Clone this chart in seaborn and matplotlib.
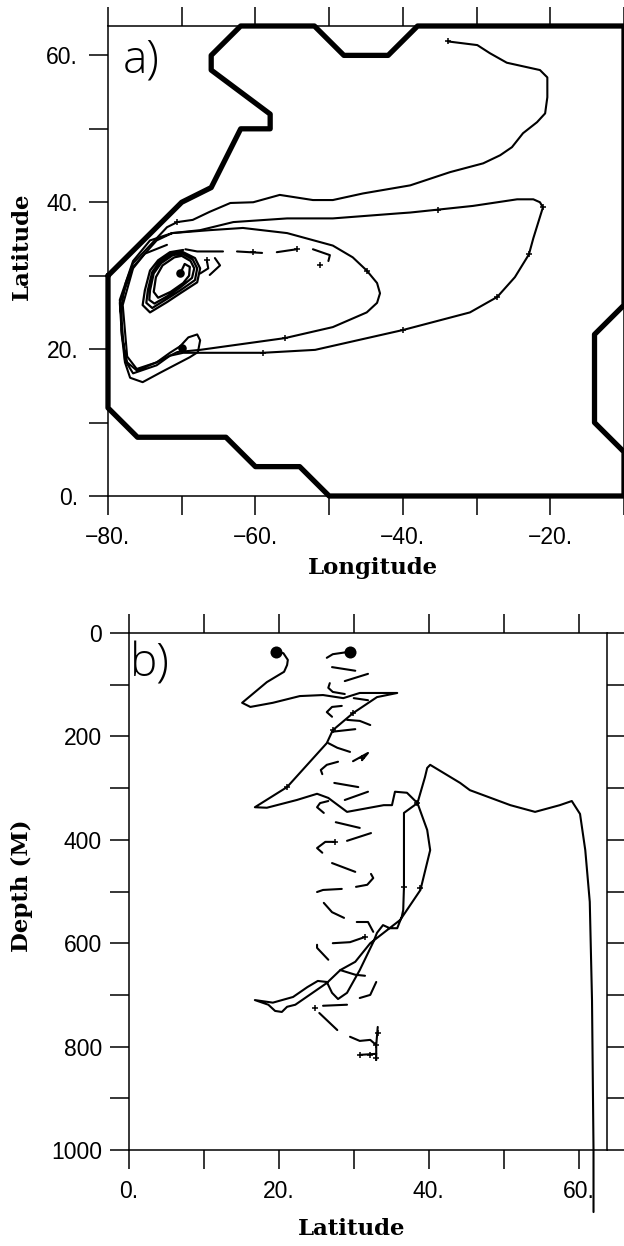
import matplotlib
matplotlib.use("Agg")
import matplotlib.pyplot as plt
import seaborn as sns

sns.set_style("ticks")
plt.rcParams['font.family'] = ['Liberation Sans', 'DejaVu Sans']

W, H = 624, 1246

# panel a, coast of the model basin
coast_lon = [-80, -70, -66, -62, -58, -58, -66, -66, -62, -52, -48, -42, -38, -10, -10, -14, -14, -10, -10, -50, -54, -60, -64, -76, -80, -80]
coast_lat = [30, 40, 42, 50, 50, 52, 58, 60, 64, 64, 60, 60, 64, 64, 26, 22, 10, 6, 0, 0, 4, 4, 8, 8, 12, 30]

# panel a, trajectories
north_lon = [-33.9, -29.9, -28.2, -25.9, -22.3, -21.4, -20.4, -20.4, -20.4, -20.7, -21.8, -23.7, -25.2, -26.8, -29.1, -33.6, -39, -45.4, -49.5, -51.2, -52.2, -56.7, -60.3, -63.4, -66.2, -68.5, -70.6, -72, -74.7, -76.6, -77.6, -78.1, -78.2, -77.7, -77, -75.3, -72.9, -68.9, -67.8, -67.5, -67.9, -69.1, -70.2]
north_lat = [61.9, 61.4, 60.3, 59, 58.2, 58, 57, 55.9, 54.3, 52.1, 50.9, 49.4, 47.5, 46.4, 45.3, 44.1, 42.3, 41.2, 40.3, 40.3, 40.3, 41, 40, 39.9, 38.7, 37.6, 37.3, 36.6, 33.7, 31.7, 29, 26.3, 22.6, 18.2, 16.1, 15.5, 16.8, 18.9, 19.6, 21.2, 22, 21.6, 20.4]
east_lon = [-70.2, -71.6, -73.4, -76.1, -77.4, -78.1, -78.4, -76.6, -73.4, -71.3, -67.5, -63, -55.7, -49.5, -40.4, -39, -35.2, -30.5, -24.5, -22.3, -21.4, -21, -22.3, -22.9, -24.8, -27.2, -30.9, -40, -51.9, -59, -67.5, -69.8, -71.6, -73.4, -76.6, -77.7, -78.4, -76.6, -74.3, -71.3]
east_lat = [20.4, 19.5, 18.2, 17.1, 18.2, 21.6, 26.3, 31.2, 34.8, 35.8, 36.2, 37.3, 37.8, 37.8, 38.5, 38.6, 39, 39.5, 40.4, 40.4, 40, 39.3, 35.1, 32.9, 29.8, 27.1, 25, 22.6, 19.9, 19.5, 19.5, 19.5, 19.1, 17.8, 16.7, 18.5, 26.7, 32, 34.8, 35.8]
loop_lon = [-71.3, -66.2, -61.7, -55.7, -49.5, -46.8, -44.9, -43.5, -43.1, -43.5, -44.9, -49.5, -56, -67.5, -70.6, -73.4, -76.1, -77.4, -78, -76.6, -75, -72]
loop_lat = [35.8, 36.2, 36.5, 35.8, 34.1, 32.5, 30.7, 29, 27.6, 26.3, 25, 23, 21.5, 19.9, 19.6, 18.2, 17.3, 19, 26, 31, 33, 34.2]
gyre_lon = [-69.8, -71.6, -73.2, -74.3, -75, -75.3, -74.3, -72, -70.2, -67.9, -67.5, -68.2,
            -69.8, -71.4, -73, -74, -74.6, -74.8, -74, -71.9, -70.2, -68.2, -67.9, -68.5,
            -69.9, -71.2, -72.8, -73.8, -74.3, -74.4, -73.7, -71.8, -70.2, -68.6, -68.3, -68.8,
            -70, -71, -72.6, -73.5, -73.8, -73.2, -71.5, -69.8, -69, -68.9, -69.6, -70.2]
gyre_lat = [33.5, 33.2, 32.1, 30.7, 28, 26, 25, 26.4, 27.6, 29.1, 31, 32.4,
            33.2, 33, 31.9, 30.5, 28, 26.3, 25.6, 26.9, 28, 29.4, 31, 32.2,
            33, 32.8, 31.7, 30.3, 28, 26.7, 26.2, 27.3, 28.4, 29.7, 31, 32,
            32.7, 32.5, 31.4, 29.8, 27.8, 27, 27.8, 29, 30, 31.2, 31.6, 30.3]
a_solid_lon = [north_lon, east_lon, loop_lon]
a_solid_lat = [north_lat, east_lat, loop_lat]

# panel a, end of the float as dashes
a_dash_lon = [[-69.5, -67.9, -64.4], [-62.5, -59.1], [-57.1, -54.4], [-52.2, -49.9, -50.1], [-66.6, -66.4, -67.5], [-65.5, -64.8, -66.2]]
a_dash_lat = [[33.6, 33.3, 33.3], [33.3, 33.1], [33.2, 33.6], [33.6, 32.8, 32], [32.1, 31, 30.3], [32.4, 31.4, 30.1]]
a_cross_lon = [-33.9, -70.6, -35.2, -21, -22.9, -27.2, -40, -59, -56, -44.9, -60.3, -54.4, -51.2, -66.6]
a_cross_lat = [61.9, 37.3, 39, 39.3, 32.9, 27.1, 22.6, 19.5, 21.5, 30.7, 33.2, 33.6, 31.4, 32.1]
a_start_lon = [-70, -70.2]
a_start_lat = [20.2, 30.3]

# panel b, trajectories
main_lat = [19.6, 20.6, 21.2, 21.1, 20.7, 18.4, 15.1, 16.2, 19.2, 22.8, 25.9, 28.6, 30.8, 35.8, 33.1, 29.9, 27.2, 26.4, 21.1, 16.8, 18.4, 22.4, 25.1, 26.6, 29.1, 34, 35.1, 35.5, 37.1, 38.5, 39.5, 39.8, 40.2, 44.2, 45.5, 50.9, 54.2, 57.5, 59.1, 60.2, 60.9, 61.5, 61.8, 62, 62]
main_dep = [37, 39, 52, 62, 75, 95, 135, 143, 135, 122, 120, 126, 116, 116, 124, 155, 188, 213, 298, 337, 338, 323, 311, 319, 346, 333, 333, 307, 309, 329, 279, 261, 255, 290, 304, 333, 346, 333, 325, 350, 420, 520, 711, 1000, 1120]
lower_lat = [38.5, 36.7, 36.7, 36.6, 36.4, 35.8, 34.8, 33.9, 33.1, 32.6, 30.8, 29.1, 27.9, 27.1, 26.4, 25.2, 23.8, 21.9, 19.2, 16.8, 18.6, 19.5, 20.4, 21.1, 22.2, 26.4, 28.2, 30.2, 32.2, 36.2, 38.9, 40.2, 39.8, 38.5]
lower_dep = [329, 348, 491, 536, 549, 571, 571, 565, 580, 598, 652, 696, 708, 696, 675, 673, 685, 704, 715, 710, 719, 731, 733, 723, 719, 677, 652, 636, 600, 555, 497, 420, 381, 329]
side_lat = [28.2, 30.2, 31.5]
side_dep = [652, 661, 663]
b_solid_lat = [main_lat, lower_lat, side_lat]
b_solid_dep = [main_dep, lower_dep, side_dep]

# panel b, dashes
b_dash_lat = [[26.4, 27.2, 29.1, 29.5], [27.1, 30.2], [28.8, 31.9], [26.8, 26.6, 27.2, 28.8], [30, 31.9], [28.4, 27.1, 26.4, 27.1],
              [29.1, 30.8, 32.2], [27.1, 30.2], [26.6, 27.8, 29.5], [29.9, 31.9, 31.1], [27.9, 26.4, 25.6, 25.8], [27.4, 30.6],
              [28.8, 31.9], [26.6, 25.5, 25.1, 26], [27.6, 30.8], [29.1, 32.3], [27.5, 26.2, 25.1, 25.8], [27.1, 30.2],
              [30.3, 31.8, 32.6, 32.3], [25.1, 25.9, 28.4], [26, 27.1, 28.7], [30.4, 31.9, 32.6], [27.2, 29.5, 31.5],
              [26.6, 25.1, 25.1], [30.8, 32.2, 33], [25.9, 29.1], [25.4, 27.8], [29.5, 30.8, 32.2, 33], [33.2, 33, 33], [30.8, 33]]
b_dash_dep = [[48, 41, 37, 37], [66, 73], [93, 79], [97, 106, 114, 118], [126, 130], [141, 143, 153, 162],
              [168, 170, 178], [191, 186], [213, 222, 230], [248, 232, 246], [249, 255, 265, 273], [290, 298],
              [323, 307], [325, 329, 337, 348], [366, 377], [402, 387], [404, 404, 416, 425], [445, 462],
              [491, 487, 474, 466], [501, 497, 495], [522, 540, 551], [559, 559, 578], [600, 598, 588],
              [632, 609, 603], [706, 700, 675], [721, 719], [735, 768], [781, 789, 787, 797], [762, 797, 826], [816, 814]]
b_cross_lat = [21.1, 36.7, 38.9, 38.5, 29.9, 27.2, 31.1, 27.5, 31.5, 24.8, 33.2, 33, 33, 30.8, 32.2]
b_cross_dep = [298, 491, 493, 329, 155, 188, 242, 404, 588, 725, 774, 797, 822, 816, 816]
b_start_lat = [19.6, 29.5]
b_start_dep = [37, 37]

a_xticks = [-80, -70, -60, -50, -40, -30, -20, -10]
a_xlabels = ['\u221280.', '', '\u221260.', '', '\u221240.', '', '\u221220.', '']
a_yticks = [0, 10, 20, 30, 40, 50, 60]
a_ylabels = ['0.', '', '20.', '', '40.', '', '60.']
b_xticks = [0, 10, 20, 30, 40, 50, 60]
b_xlabels = ['0.', '', '20.', '', '40.', '', '60.']
b_yticks = [0, 100, 200, 300, 400, 500, 600, 700, 800, 900, 1000]
b_ylabels = ['0', '', '200', '', '400', '', '600', '', '800', '', '1000']


def add_panel(fig, left, top, right, bottom):
    return fig.add_axes([left / W, 1 - bottom / H, (right - left) / W, (bottom - top) / H])


def line(ax, x, y, lw=1.5, clip=True):
    sns.lineplot(x=x, y=y, ax=ax, sort=False, estimator=None, color='black', linewidth=lw,
                 legend=False, clip_on=clip, solid_joinstyle='round', solid_capstyle='round')


def crosses(ax, x, y):
    sns.scatterplot(x=x, y=y, ax=ax, marker='+', s=20, color='black', linewidth=1.1, legend=False, clip_on=False)


def dress(ax, xticks, xlabels, yticks, ylabels, ypad):
    ax.set_xticks(xticks, xlabels)
    ax.set_yticks(yticks, ylabels)
    ax.set_xlabel('')
    ax.set_ylabel('')
    ax.tick_params(length=13.5, width=1.1, color='black', labelsize=16.5, top=True, zorder=1)
    ax.tick_params(axis='x', pad=8)
    ax.tick_params(axis='y', pad=ypad)
    for side in ax.spines.values():
        side.set_linewidth(1.1)
        side.set_color('black')
    for lab in ax.get_xticklabels() + ax.get_yticklabels():
        lab.set_color('black')


fig = plt.figure(figsize=(W / 100, H / 100), dpi=100, facecolor='white')

ax_a = add_panel(fig, 108, 26, 624, 496)
line(ax_a, coast_lon, coast_lat, lw=3.8, clip=False)
for lon, lat in zip(a_solid_lon, a_solid_lat):
    line(ax_a, lon, lat)
line(ax_a, gyre_lon, gyre_lat, lw=1.6)
for lon, lat in zip(a_dash_lon, a_dash_lat):
    line(ax_a, lon, lat)
crosses(ax_a, a_cross_lon, a_cross_lat)
sns.scatterplot(x=a_start_lon, y=a_start_lat, ax=ax_a, s=38, color='black', linewidth=0, legend=False)
ax_a.set_xlim(-80, -10)
ax_a.set_ylim(0, 64)
dress(ax_a, a_xticks, a_xlabels, a_yticks, a_ylabels, 8)
ax_a.text(123 / W, 1 - 73 / H, 'a)', transform=fig.transFigure, fontsize=33, family='Open Sans', fontweight='light', color='black')

ax_b = add_panel(fig, 129, 633, 607, 1150)
for lat, dep in zip(b_solid_lat, b_solid_dep):
    line(ax_b, lat, dep, clip=False)
for lat, dep in zip(b_dash_lat, b_dash_dep):
    line(ax_b, lat, dep)
crosses(ax_b, b_cross_lat, b_cross_dep)
sns.scatterplot(x=b_start_lat, y=b_start_dep, ax=ax_b, s=75, color='black', linewidth=0, legend=False)
ax_b.set_xlim(0, 63.8)
ax_b.set_ylim(1000, 0)
dress(ax_b, b_xticks, b_xlabels, b_yticks, b_ylabels, 6)
ax_b.tick_params(axis='y', right=True)
ax_b.text(130 / W, 1 - 676 / H, 'b)', transform=fig.transFigure, fontsize=33, family='Open Sans', fontweight='light', color='black')

label_font = dict(family='DejaVu Serif', fontweight='bold', fontsize=16.5, ha='center', va='center', color='black')
fig.text(373 / W, 1 - 568 / H, 'Longitude', **label_font)
fig.text(22 / W, 1 - 246 / H, 'Latitude', rotation=90, **label_font)
fig.text(22 / W, 1 - 886 / H, 'Depth (M)', rotation=90, **label_font)
fig.text(352 / W, 1 - 1229 / H, 'Latitude', **label_font)

fig.savefig("out.png", dpi=100)
